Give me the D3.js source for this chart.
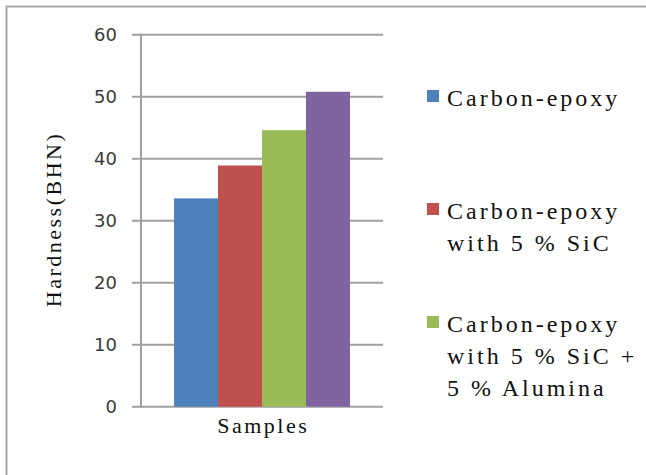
<!DOCTYPE html>
<html>
<head>
<meta charset="utf-8">
<script src="https://cdn.jsdelivr.net/npm/d3@7"></script>
</head>
<body style="margin:0;background:#fff">
<script>
const categories = ["Samples"];
const seriesNames = [
  "Carbon-epoxy",
  "Carbon-epoxy with 5 % SiC",
  "Carbon-epoxy with 5 % SiC + 5 % Alumina",
  "Series 4"
];
const seriesValues = [33.6, 38.9, 44.6, 50.8];
const seriesColors = ["#4F81BD", "#C0504D", "#9BBB59", "#8064A2"];
const yTicks = [0, 10, 20, 30, 40, 50, 60];
const legendLines = [
  ["Carbon-epoxy"],
  ["Carbon-epoxy", "with 5 % SiC"],
  ["Carbon-epoxy", "with 5 % SiC +", "5 % Alumina"]
];

const SERIF = "'Liberation Serif', 'Times New Roman', 'Tinos'";
const SANS = "'DejaVu Sans', 'Lato'";

const svg = d3.select("body").append("svg")
  .attr("width", 646).attr("height", 475)
  .style("display", "block");
const gridColor = "#a0a0a0";

function serif(sel, size) {
  return sel.attr("font-family", SERIF)
    .style("font-family", SERIF, "important")
    .style("font-size", size + "px");
}

// widen text spacing without letter-spacing
function spread(sel, perGap) {
  sel.each(function () {
    const n = this.textContent.length;
    const w = this.getComputedTextLength();
    d3.select(this).attr("textLength", w + perGap * (n - 1)).attr("lengthAdjust", "spacing");
  });
}

// outer frame (top and left edges visible)
svg.append("path")
  .attr("d", "M6.5,475V6.5H646")
  .attr("fill", "none")
  .attr("stroke", "#a8a8a8")
  .attr("stroke-width", 2);

const plot = { left: 141, right: 383, top: 34.7, bottom: 406.7 };

const y = d3.scaleLinear().domain([0, 60]).range([plot.bottom, plot.top]);
const x0 = d3.scaleBand().domain(categories).range([plot.left, plot.right]).padding(0.158);
const x1 = d3.scaleBand().domain(d3.range(seriesValues.length)).range([0, x0.bandwidth()]).padding(0);

// gridlines
svg.append("g").selectAll("line").data(yTicks).join("line")
  .attr("x1", plot.left - 9).attr("x2", plot.right)
  .attr("y1", d => y(d)).attr("y2", d => y(d))
  .attr("stroke", gridColor).attr("stroke-width", 2);

// y axis line
svg.append("line")
  .attr("x1", plot.left).attr("x2", plot.left)
  .attr("y1", plot.top - 1).attr("y2", plot.bottom + 1)
  .attr("stroke", gridColor).attr("stroke-width", 2);

// tick labels
svg.append("g").selectAll("text").data(yTicks).join("text")
  .style("font-family", SANS)
  .style("font-size", "18px")
  .attr("x", 117).attr("y", d => y(d)).attr("dy", "0.36em")
  .attr("text-anchor", "end")
  .attr("fill", "#3a3a3a")
  .text(d => d);

// bars
const g = svg.append("g");
categories.forEach(cat => {
  g.selectAll("rect").data(seriesValues).join("rect")
    .attr("x", (d, i) => x0(cat) + x1(i))
    .attr("width", x1.bandwidth())
    .attr("y", d => y(d))
    .attr("height", d => y(0) - y(d))
    .attr("fill", (d, i) => seriesColors[i]);
});

// axis titles
const xTitle = serif(svg.append("text"), 22)
  .attr("x", (plot.left + plot.right) / 2).attr("y", 433)
  .attr("text-anchor", "middle")
  .attr("fill", "#111")
  .text(categories[0]);
spread(xTitle, 2.5);

const yTitle = serif(svg.append("text"), 22)
  .attr("transform", `translate(61,${(plot.top + plot.bottom) / 2}) rotate(-90)`)
  .attr("text-anchor", "middle")
  .attr("fill", "#111")
  .text("Hardness(BHN)");
spread(yTitle, 2.5);

// legend
const legendBaselines = [106, 219, 332];
const lineGap = 32;
const lg = svg.append("g");
legendLines.forEach((lines, i) => {
  const b = legendBaselines[i];
  lg.append("rect")
    .attr("x", 427).attr("y", b - 16)
    .attr("width", 12).attr("height", 12)
    .attr("fill", seriesColors[i]);
  lines.forEach((ln, j) => {
    const t = serif(lg.append("text"), 24)
      .attr("x", 447).attr("y", b + j * lineGap)
      .attr("fill", "#111")
      .text(ln);
    spread(t, 3);
  });
});
</script>
</body>
</html>
